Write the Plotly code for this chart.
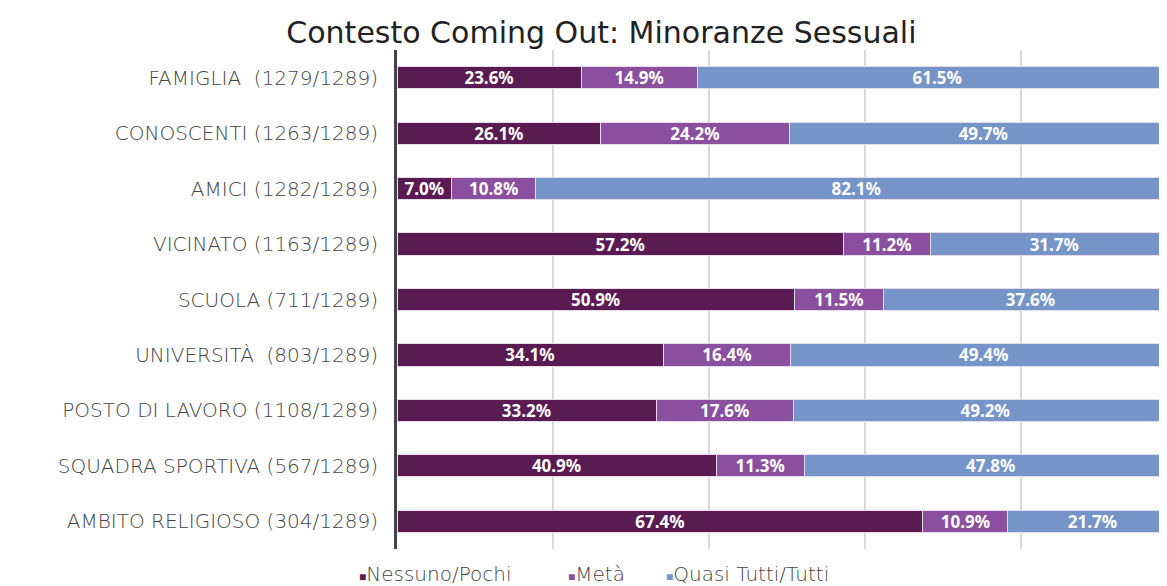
import plotly.graph_objects as go

# Data (percent of respondents)
categories = [
    'FAMIGLIA  (1279/1289)',
    'CONOSCENTI (1263/1289)',
    'AMICI (1282/1289)',
    'VICINATO (1163/1289)',
    'SCUOLA (711/1289)',
    'UNIVERSITÀ  (803/1289)',
    'POSTO DI LAVORO (1108/1289)',
    'SQUADRA SPORTIVA (567/1289)',
    'AMBITO RELIGIOSO (304/1289)',
]
nessuno_pochi = [23.6, 26.1, 7.0, 57.2, 50.9, 34.1, 33.2, 40.9, 67.4]
meta = [14.9, 24.2, 10.8, 11.2, 11.5, 16.4, 17.6, 11.3, 10.9]
quasi_tutti = [61.5, 49.7, 82.1, 31.7, 37.6, 49.4, 49.2, 47.8, 21.7]

series = [
    ('Nessuno/Pochi', nessuno_pochi, '#5a1a52'),
    ('Metà', meta, '#8a4f9e'),
    ('Quasi Tutti/Tutti', quasi_tutti, '#7595c9'),
]

fig = go.Figure()
for name, vals, color in series:
    fig.add_trace(go.Bar(
        y=categories,
        x=vals,
        name=name,
        orientation='h',
        marker=dict(color=color, line=dict(color='#e6dcea', width=1)),
        text=[f'{v:.1f}%' for v in vals],
        textposition='inside',
        insidetextanchor='middle',
        constraintext='none',
        textfont=dict(family='Noto Sans', size=17, color='white', weight='bold'),
        width=0.4,
        showlegend=False,
    ))

# legend drawn as text items with coloured squares
legend_x = [-0.052, 0.220, 0.347]
for (name, _, color), lx in zip(series, legend_x):
    fig.add_annotation(
        text=f'<span style="color:{color};font-size:12px">■</span>{name}',
        xref='paper', yref='paper', x=lx, xanchor='left',
        y=-0.05, yanchor='middle', showarrow=False,
        font=dict(family='DejaVu Sans', size=20, color='#444444', weight=300),
    )

# page body has an 8px margin, so figure is 8px smaller than the window
fig.update_layout(
    barmode='stack',
    width=1159,
    height=578,
    plot_bgcolor='white',
    paper_bgcolor='white',
    margin=dict(l=389, r=0, t=42, b=37),
    title=dict(
        text='Contesto Coming Out: Minoranze Sessuali',
        x=0.512, xanchor='center', y=0.958, yanchor='middle',
        font=dict(family='DejaVu Sans', size=30, color='#222222'),
    ),
    uniformtext=dict(minsize=14, mode='show'),
)
fig.update_xaxes(
    range=[0, 98.7],
    showticklabels=False,
    showgrid=True, gridcolor='#d9d9d9', gridwidth=2,
    dtick=20, zeroline=False,
)
fig.update_yaxes(
    autorange='reversed',
    showline=True, linecolor='#3f4447', linewidth=3,
    ticks='', ticklabelstandoff=12,
    tickfont=dict(family='DejaVu Sans', size=20, color='#444444', weight=300),
)

fig.write_html('out.html')
